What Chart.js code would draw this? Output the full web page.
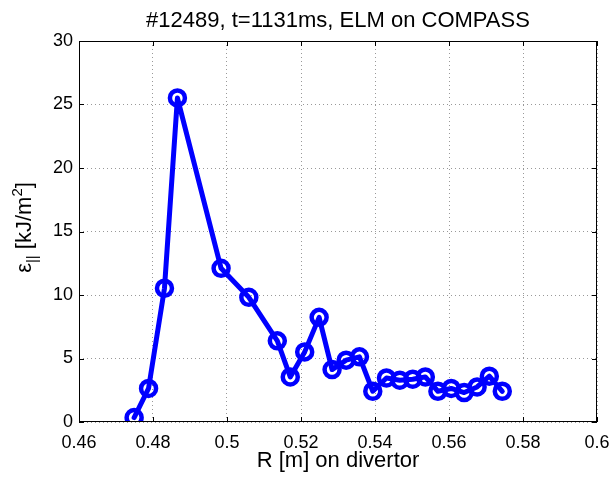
<!DOCTYPE html>
<html>
<head>
<meta charset="utf-8">
<script src="https://cdn.jsdelivr.net/npm/chart.js@4/dist/chart.umd.min.js"></script>
<style>
html,body{margin:0;padding:0;background:#fff;}
#wrap{width:610px;height:477px;position:relative;}
</style>
</head>
<body>
<div id="wrap"><canvas id="c" width="610" height="477"></canvas></div>
<script>
// Data
const rValues = [0.4749,0.4788,0.4831,0.4866,0.4984,0.5059,0.5136,0.5171,0.5210,0.5249,0.5284,0.5322,0.5358,0.5394,0.5431,0.5467,0.5502,0.5536,0.5570,0.5606,0.5641,0.5676,0.5709,0.5744];
const energyValues = [0.35,2.64,10.53,25.52,12.1,9.82,6.39,3.55,5.52,8.24,4.13,4.87,5.13,2.42,3.47,3.29,3.37,3.55,2.42,2.64,2.32,2.76,3.61,2.42];
const xTicks = [0.46,0.48,0.5,0.52,0.54,0.56,0.58,0.6];
const xTickLabels = ['0.46','0.48','0.5','0.52','0.54','0.56','0.58','0.6'];
const yTicks = [0,5,10,15,20,25,30];
const yTickLabels = ['0','5','10','15','20','25','30'];
const titleText = '#12489, t=1131ms, ELM on COMPASS';
const xLabelText = 'R [m] on divertor';

const FONT = '"Liberation Sans", Arial, Helvetica, sans-serif';
const points = rValues.map((r,i)=>({x:r,y:energyValues[i]}));

const decor = {
  id:'decor',
  afterDraw(chart){
    const ctx = chart.ctx, a = chart.chartArea;
    const xs = chart.scales.x, ys = chart.scales.y;
    ctx.save();
    // box
    ctx.strokeStyle = '#000'; ctx.lineWidth = 1;
    ctx.strokeRect(a.left+0.5, a.top+0.5, a.right-a.left-1, a.bottom-a.top-1);
    // inward ticks
    ctx.beginPath();
    xTicks.forEach(v=>{
      const px = Math.round(xs.getPixelForValue(v))+0.5;
      ctx.moveTo(px,a.bottom); ctx.lineTo(px,a.bottom-5);
      ctx.moveTo(px,a.top); ctx.lineTo(px,a.top+5);
    });
    yTicks.forEach(v=>{
      const py = Math.round(ys.getPixelForValue(v))+0.5;
      ctx.moveTo(a.left,py); ctx.lineTo(a.left+5,py);
      ctx.moveTo(a.right,py); ctx.lineTo(a.right-5,py);
    });
    ctx.stroke();
    // title
    ctx.fillStyle = '#000';
    ctx.textAlign = 'center'; ctx.textBaseline = 'alphabetic';
    ctx.font = '22px ' + FONT;
    const cx = (a.left + a.right)/2;
    ctx.fillText(titleText, cx, 27);
    // x label
    ctx.fillText(xLabelText, cx, 467);
    // y label (rotated, with sub/superscripts)
    const parts = [
      {t:'\u03B5', size:22, dy:0},
      {t:'||', size:15, dy:6},
      {t:' [kJ/m', size:22, dy:0},
      {t:'2', size:15, dy:-9},
      {t:']', size:22, dy:0}
    ];
    let total = 0;
    parts.forEach(p=>{ctx.font = p.size+'px '+FONT; p.w = ctx.measureText(p.t).width; total += p.w;});
    ctx.translate(31, (a.top+a.bottom)/2 - 4);
    ctx.rotate(-Math.PI/2);
    ctx.textAlign = 'left';
    let x0 = -total/2;
    parts.forEach(p=>{ctx.font = p.size+'px '+FONT; ctx.fillText(p.t, x0, p.dy); x0 += p.w;});
    ctx.restore();
  }
};

new Chart(document.getElementById('c'), {
  type:'line',
  data:{datasets:[{
    data:points,
    borderColor:'#0000ff',
    borderWidth:5,
    borderJoinStyle:'round',
    borderCapStyle:'round',
    pointRadius:7.5,
    pointBorderWidth:4.5,
    pointBorderColor:'#0000ff',
    pointBackgroundColor:'rgba(0,0,0,0)',
    tension:0,
    fill:false
  }]},
  options:{
    responsive:false,
    animation:false,
    devicePixelRatio:1,
    layout:{padding:{top:41,right:13,left:0,bottom:0}},
    plugins:{legend:{display:false},title:{display:false},tooltip:{enabled:false}},
    scales:{
      x:{
        type:'linear', min:0.46, max:0.6,
        afterBuildTicks(s){ s.ticks = xTicks.map(v=>({value:v})); },
        afterFit(s){ s.height = 55; s.paddingLeft = 0; s.paddingRight = 0; },
        ticks:{
          callback:(v)=>{const i = xTicks.findIndex(t=>Math.abs(t-v)<1e-9); return i>=0?xTickLabels[i]:'';},
          font:{size:18, family:FONT}, color:'#000', padding:10, maxRotation:0, autoSkip:false
        },
        grid:{color:'#999', lineWidth:1, drawTicks:false},
        border:{display:false, dash:[1,3]}
      },
      y:{
        type:'linear', min:0, max:30,
        afterBuildTicks(s){ s.ticks = yTicks.map(v=>({value:v})); },
        afterFit(s){ s.width = 79; s.paddingTop = 0; s.paddingBottom = 0; },
        ticks:{
          callback:(v)=>{const i = yTicks.indexOf(v); return i>=0?yTickLabels[i]:'';},
          font:{size:18, family:FONT}, color:'#000', padding:6, autoSkip:false
        },
        grid:{color:'#999', lineWidth:1, drawTicks:false},
        border:{display:false, dash:[1,3]}
      }
    }
  },
  plugins:[decor]
});
</script>
</body>
</html>
